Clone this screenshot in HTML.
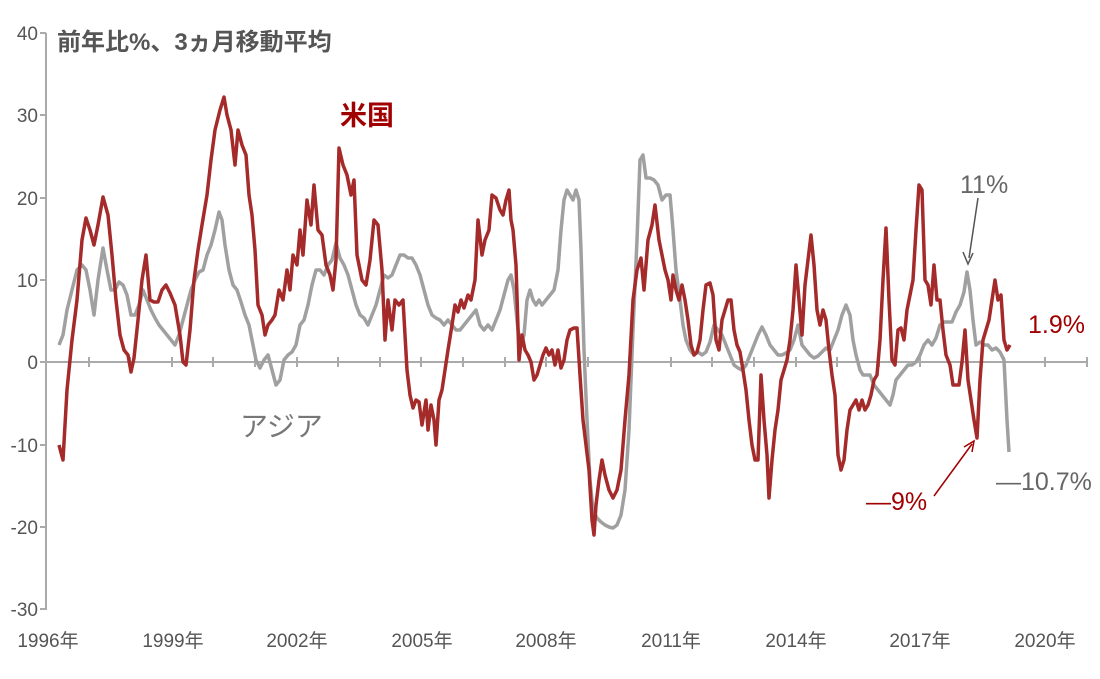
<!DOCTYPE html>
<html><head><meta charset="utf-8"><style>
body{margin:0;background:#fff;}
svg text{font-family:"Liberation Sans","Noto Sans CJK JP",sans-serif;}
</style></head><body>
<svg width="1100" height="674" viewBox="0 0 1100 674">
<g stroke="#aaa" stroke-width="2" fill="none">
<line x1="46" y1="33" x2="46" y2="610"/>
<line x1="40" y1="33" x2="46" y2="33"/><line x1="40" y1="115" x2="46" y2="115"/><line x1="40" y1="198" x2="46" y2="198"/><line x1="40" y1="280" x2="46" y2="280"/><line x1="40" y1="362" x2="46" y2="362"/><line x1="40" y1="445" x2="46" y2="445"/><line x1="40" y1="527" x2="46" y2="527"/><line x1="40" y1="609" x2="46" y2="609"/>
<line x1="46" y1="362" x2="1087" y2="362"/>
<path d="M89 357v10M130 357v10M172 357v10M213 357v10M255 357v10M297 357v10M338 357v10M380 357v10M421 357v10M463 357v10M505 357v10M546 357v10M588 357v10M629 357v10M671 357v10M712 357v10M754 357v10M796 357v10M837 357v10M879 357v10M920 357v10M962 357v10M1004 357v10M1045 357v10M1087 357v10"/>
</g>
<g fill="#555" font-size="19" text-anchor="end">
<text x="38" y="40">40</text><text x="38" y="122">30</text><text x="38" y="205">20</text><text x="38" y="287">10</text><text x="38" y="369">0</text><text x="38" y="452">-10</text><text x="38" y="534">-20</text><text x="38" y="616">-30</text>
</g>
<g fill="#555" font-size="19" text-anchor="middle">
<text x="48" y="647">1996年</text><text x="173" y="647">1999年</text><text x="297" y="647">2002年</text><text x="422" y="647">2005年</text><text x="546" y="647">2008年</text><text x="671" y="647">2011年</text><text x="796" y="647">2014年</text><text x="920" y="647">2017年</text><text x="1045" y="647">2020年</text>
</g>
<text x="57" y="50" fill="#555" font-size="24" font-weight="bold">前年比%、3ヵ月移動平均</text>
<polyline fill="none" stroke="#a0a0a0" stroke-width="3.5" stroke-linejoin="round" points="59,345 63,335 67,310 72,290 77,270 82,265 86,270 90,290 94,315 98,280 103,248 107,270 111,290 115,290 119,282 123,285 127,295 131,315 135,315 139,305 143,290 147,300 151,310 155,318 159,325 163,330 167,335 171,340 175,345 179,335 183,320 187,305 191,290 195,280 199,272 203,270 207,255 211,245 215,230 219,212 222,220 225,245 229,270 233,285 237,290 241,302 245,315 249,325 253,345 256,360 260,368 264,360 268,355 272,370 276,385 280,380 284,360 288,355 292,352 296,345 300,325 304,320 308,305 312,285 316,270 320,270 324,275 328,265 332,260 336,243 340,258 344,265 348,275 352,290 356,305 360,315 364,318 368,325 372,315 376,305 380,290 384,275 388,278 392,275 396,265 400,255 404,255 408,258 412,258 416,265 420,275 424,290 428,305 432,315 436,318 440,320 444,325 448,320 452,325 456,330 460,330 464,325 468,320 472,315 476,310 480,325 484,330 488,325 492,330 496,320 500,310 504,295 508,280 511,275 514,290 518,330 521,345 524,335 527,300 530,290 533,300 536,305 539,300 542,305 546,300 550,295 554,290 558,270 561,230 564,200 567,190 570,195 573,200 576,190 579,200 581,250 584,350 587,420 590,480 593,510 597,518 601,522 605,525 609,527 613,528 617,525 621,515 625,490 629,430 633,330 637,240 640,160 643,155 646,178 650,178 654,180 658,185 662,200 666,195 670,195 673,230 676,270 680,300 683,325 686,340 690,350 694,355 698,352 702,355 706,352 710,342 714,325 718,330 722,335 726,345 730,355 734,365 738,368 742,370 746,365 750,355 754,345 758,335 762,327 766,335 770,345 774,350 778,355 782,355 786,353 790,350 794,340 798,325 802,345 806,350 810,355 814,358 818,356 822,352 826,348 830,350 834,340 838,330 842,315 846,305 850,315 853,340 856,355 860,370 863,375 866,375 870,375 874,385 878,390 882,395 886,400 890,405 893,395 896,380 900,375 904,370 908,365 912,365 916,362 920,355 924,345 928,340 932,345 936,338 940,325 944,322 948,322 952,322 956,312 960,305 964,292 967,272 970,290 973,320 976,345 980,342 984,345 988,345 992,350 996,348 1000,352 1004,360 1007,420 1009,452"/>
<polyline fill="none" stroke="#a52a2a" stroke-width="3.5" stroke-linejoin="round" points="59,445 63,460 67,390 72,340 77,300 82,240 86,218 90,230 94,245 98,225 103,197 108,215 112,255 116,300 120,335 124,350 128,355 131,372 134,358 138,320 142,280 146,255 150,300 154,302 158,302 162,290 166,285 170,293 175,305 180,335 183,362 186,365 190,330 194,280 198,250 202,225 207,195 211,160 215,130 220,110 224,97 227,115 231,130 235,165 238,130 242,145 246,155 249,195 252,215 255,250 258,305 262,315 265,335 268,325 272,320 275,315 279,290 283,300 287,270 290,290 293,255 297,265 300,230 303,255 307,200 311,225 314,185 318,230 322,235 326,265 330,275 333,290 336,260 339,148 343,165 347,175 351,195 354,180 357,255 362,280 366,285 370,260 374,220 378,225 382,270 385,340 388,300 392,330 395,300 399,305 403,300 407,370 410,395 413,408 416,400 419,402 422,425 426,400 428,430 431,405 434,420 436,445 439,400 442,390 445,370 448,350 452,325 455,305 458,312 461,300 464,308 468,295 471,300 475,280 478,220 482,255 485,240 489,230 492,195 496,198 500,210 503,215 506,200 509,190 511,220 513,230 516,265 519,360 522,335 525,350 528,355 531,362 534,380 537,375 540,365 543,355 546,348 549,355 552,350 555,365 558,350 561,368 564,360 567,340 570,330 574,328 577,328 580,375 583,420 586,445 589,470 592,520 594,535 596,505 599,480 602,460 605,475 609,490 613,498 617,490 621,470 625,420 629,375 633,300 637,270 641,258 644,290 648,240 652,225 655,205 659,240 662,255 665,270 668,280 671,300 673,275 676,290 679,300 682,285 685,300 688,320 691,345 694,355 697,352 700,340 703,310 706,285 710,283 713,295 716,340 719,350 722,320 725,310 728,300 731,300 734,330 737,345 740,352 743,370 746,390 749,420 752,445 755,460 758,460 761,375 764,420 767,455 769,498 772,460 775,430 778,410 781,380 784,370 787,360 790,340 793,310 796,265 799,300 802,335 805,285 808,260 811,235 814,265 817,310 820,325 823,310 826,320 829,350 832,375 835,395 838,455 841,470 844,460 847,430 850,410 853,405 856,400 859,410 862,400 865,410 868,405 871,395 874,380 877,375 880,340 883,280 886,228 889,300 892,360 895,365 898,330 901,328 904,340 907,310 910,295 913,280 916,230 919,185 922,190 925,280 928,285 931,305 934,265 937,300 940,300 943,330 946,355 950,365 953,385 956,385 959,385 962,362 965,330 968,380 971,400 974,420 977,438 980,380 983,340 986,330 989,320 992,300 995,280 998,300 1001,295 1004,340 1007,350 1010,345"/>
<text x="340" y="125" fill="#a00000" font-size="27" font-weight="bold">米国</text>
<text x="240" y="436" fill="#777" font-size="28">アジア</text>
<text x="960" y="193" fill="#666" font-size="25">11%</text>
<line x1="978" y1="198" x2="969" y2="258" stroke="#555" stroke-width="1.5"/>
<path d="M963 252 L968 264 L973 253" fill="none" stroke="#555" stroke-width="1.5"/>
<text x="1028" y="333" fill="#a00000" font-size="25">1.9%</text>
<text x="996" y="490" fill="#666" font-size="25">—10.7%</text>
<text x="866" y="510" fill="#a00000" font-size="25">—9%</text>
<line x1="934" y1="496" x2="972" y2="444" stroke="#a00000" stroke-width="1.5"/>
<path d="M964 447 L974 441 L972 452" fill="none" stroke="#a00000" stroke-width="1.5"/>
</svg>
</body></html>
